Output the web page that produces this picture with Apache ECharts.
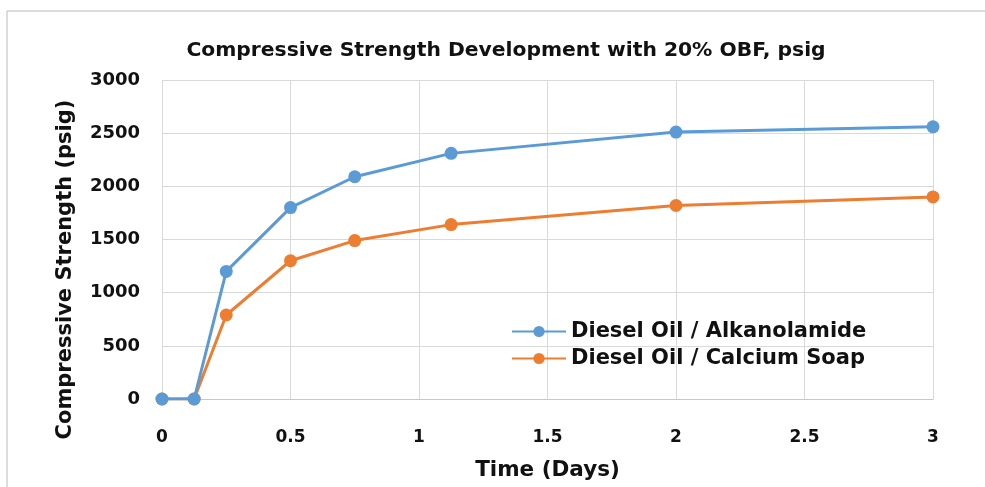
<!DOCTYPE html>
<html><head><meta charset="utf-8">
<script src="https://cdn.jsdelivr.net/npm/echarts@6/dist/echarts.min.js"></script>
<style>html,body{margin:0;padding:0;background:#fff}#c{width:985px;height:487px}</style>
</head><body><div id="c"></div>
<script>
const titleText = 'Compressive Strength Development with 20% OBF, psig';
const xName = 'Time (Days)';
const yName = 'Compressive Strength (psig)';
const seriesNames = ['Diesel Oil / Alkanolamide', 'Diesel Oil / Calcium Soap'];
const timeDays = [0, 0.125, 0.25, 0.5, 0.75, 1.125, 2, 3];
const alkanolamide = [0, 0, 1200, 1800, 2090, 2310, 2510, 2560];
const calciumSoap = [0, 0, 790, 1300, 1490, 1640, 1820, 1900];
const colors = ['#5b9bd5', '#ed7d31'];
const FONT = 'DejaVu Sans';

const chart = echarts.init(document.getElementById('c'), null, {renderer: 'canvas'});
const mk = (arr) => timeDays.map((t, i) => [t, arr[i]]);
chart.setOption({
  animation: false,
  backgroundColor: '#fff',
  title: {
    text: titleText, left: 501, top: 36, textAlign: 'center',
    textStyle: {fontFamily: FONT, fontSize: 20.3, fontWeight: 'bold', color: '#111'}
  },
  graphic: [
    {type: 'line', shape: {x1: 7, y1: 11, x2: 985, y2: 11}, style: {stroke: '#d0d0d0', lineWidth: 1.5}},
    {type: 'line', shape: {x1: 7, y1: 11, x2: 7, y2: 487}, style: {stroke: '#d0d0d0', lineWidth: 1.5}}
  ],
  grid: {left: 162, right: 52, top: 80, bottom: 88, containLabel: false},
  legend: {
    left: 506, top: 316, orient: 'vertical', itemGap: 6, itemWidth: 54, itemHeight: 14,
    textStyle: {fontFamily: FONT, fontSize: 21, fontWeight: 'bold', color: '#111'},
    data: seriesNames
  },
  xAxis: {
    type: 'value', min: 0, max: 3, interval: 0.5,
    name: xName, nameLocation: 'middle', nameGap: 60,
    nameTextStyle: {fontFamily: FONT, fontSize: 21.5, fontWeight: 'bold', color: '#111'},
    axisLine: {show: true, lineStyle: {color: '#c8c8c8', width: 1}},
    axisTick: {show: false},
    axisLabel: {fontFamily: FONT, fontSize: 17, fontWeight: 'bold', color: '#111', margin: 30},
    splitLine: {show: true, lineStyle: {color: '#d9d9d9', width: 1}}
  },
  yAxis: {
    type: 'value', min: 0, max: 3000, interval: 500,
    name: yName, nameLocation: 'middle', nameGap: 86,
    nameTextStyle: {fontFamily: FONT, fontSize: 21, fontWeight: 'bold', color: '#111', padding: [0, 60, 0, 0]},
    axisLine: {show: false}, axisTick: {show: false},
    axisLabel: {fontFamily: FONT, fontSize: 18, fontWeight: 'bold', color: '#111', margin: 22,
                formatter: (v) => String(v)},
    splitLine: {show: true, lineStyle: {color: '#d9d9d9', width: 1}}
  },
  series: [
    {name: seriesNames[0], type: 'line', data: mk(alkanolamide), color: colors[0],
     symbol: 'circle', symbolSize: 13, lineStyle: {width: 3}, z: 3},
    {name: seriesNames[1], type: 'line', data: mk(calciumSoap), color: colors[1],
     symbol: 'circle', symbolSize: 13, lineStyle: {width: 3}, z: 2}
  ]
});
</script></body></html>
